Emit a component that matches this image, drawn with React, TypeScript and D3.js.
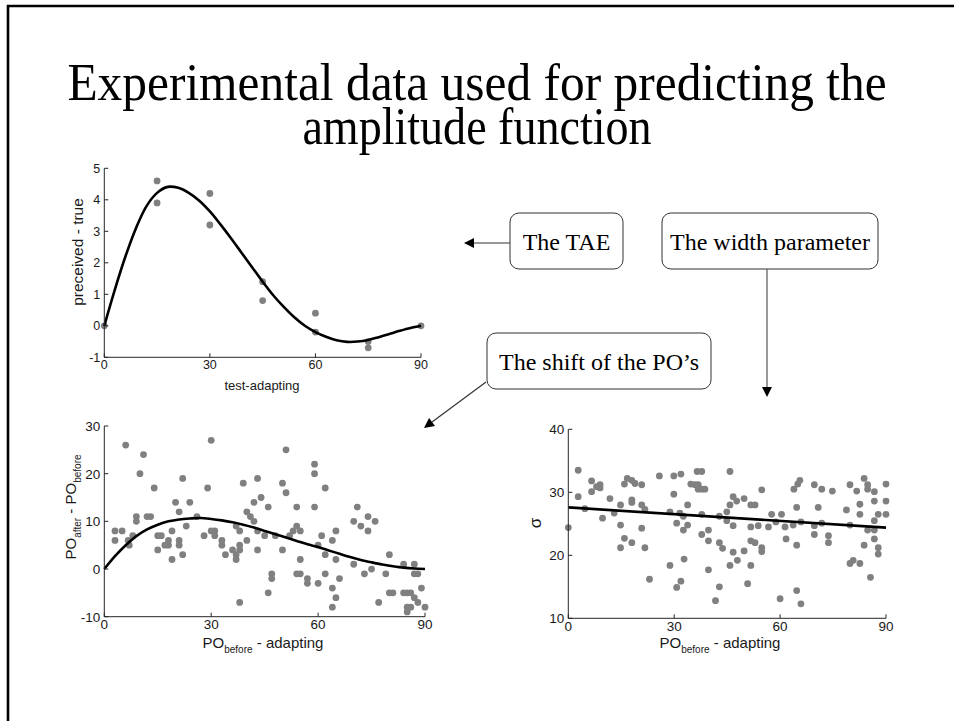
import React from "react";
import * as d3 from "d3";

// ---------- DATA ----------
const titleLines = ["Experimental data used for predicting the", "amplitude function"];

const taeXTicks = [0, 30, 60, 90];
const taeYTicks = [-1, 0, 1, 2, 3, 4, 5];
const taePoints: [number, number][] = [
  [0, 0], [15, 4.6], [15, 3.9], [30, 4.2], [30, 3.2], [45, 1.4], [45, 0.8],
  [60, 0.4], [60, -0.2], [75, -0.5], [75, -0.7], [90, 0],
];
const taeCurve: [number, number][] = [
  [0, 0], [3, 1.15], [6, 2.2], [9, 3.1], [12, 3.8], [15, 4.22], [18, 4.41], [21, 4.38],
  [24, 4.22], [27, 3.97], [30, 3.63], [33, 3.22], [36, 2.78], [39, 2.32], [42, 1.86],
  [45, 1.4], [48, 0.97], [51, 0.6], [54, 0.27], [57, 0.0], [60, -0.2], [63, -0.35],
  [66, -0.46], [69, -0.51], [72, -0.5], [75, -0.45], [78, -0.36], [81, -0.26],
  [84, -0.16], [87, -0.07], [90, 0],
];

const shiftXTicks = [0, 30, 60, 90];
const shiftYTicks = [-10, 0, 10, 20, 30];
const shiftPoints: [number, number][] = [
  [3, 8], [3, 6], [5, 8], [6, 26], [6.7, 6], [7, 5], [8, 7], [9, 11], [9, 10], [10, 20],
  [11, 24], [12, 11], [13, 11], [14, 17], [15, 7], [15, 4], [16, 7], [17, 5], [18, 6],
  [18, 5], [19, 2], [19, 8], [20, 14], [21, 12], [21, 6], [21, 5], [22, 19], [22, 3],
  [23, 9], [24, 14], [26, 11], [28, 7], [29, 17], [30, 27], [30, 8], [31, 8], [31, 7],
  [33, 6], [33, 5], [34, 3], [36, 4], [37, 3], [37, 2], [37, 9], [38, 8], [38, 5],
  [38, 4], [38, -7], [39, 18], [40, 12], [40, 6], [41, 11], [42, 14], [42, 10], [43, 19],
  [43, 8], [43, 4], [44, 15], [45, 7], [46, 13], [46, -5], [47, -1], [47, -2], [48, 7],
  [50, 18], [50, 4], [51, 25], [51, 16], [52, 7], [53, 8], [54, 13], [54, 9], [54, -1],
  [55, 8], [55, 2], [55, -1], [57, -2], [57, -3], [59, 22], [59, 20], [59, 13], [60, 5],
  [60, -3], [61, 7], [62, 17], [62, 3], [62, -1], [64, 6], [64, -4], [64, -8], [65, 8],
  [65, 2], [65, -6], [66, -2], [70, 10], [70, 1], [71, 13], [72, 9], [73, -1], [74, 11],
  [74, 8], [75, 0], [76, 10], [77, -7], [79, -1], [80, 3], [80, -5], [81, -5], [84, 1],
  [84, -5], [85, -5], [85, -8], [85, -9], [86, -5], [86, -8], [87, 1], [87, -1], [87, -6],
  [88, -1], [88, -7], [89, -4], [90, -8],
];
const shiftCurve: [number, number][] = [
  [0, 0], [3, 2.7], [6, 5.0], [9, 6.9], [12, 8.3], [15, 9.3], [18, 10.0], [21, 10.4],
  [24, 10.6], [27, 10.7], [30, 10.5], [33, 10.2], [36, 9.8], [39, 9.3], [42, 8.7],
  [45, 8.0], [48, 7.3], [51, 6.6], [54, 5.9], [57, 5.2], [60, 4.6], [63, 3.9], [66, 3.2],
  [69, 2.5], [72, 1.9], [75, 1.4], [78, 0.95], [81, 0.6], [84, 0.3], [87, 0.1], [90, 0],
];

const widthXTicks = [0, 30, 60, 90];
const widthYTicks = [10, 20, 30, 40];
const widthPoints: [number, number][] = [
  [0, 24.4], [2.8, 33.5], [2.8, 29.3], [4.7, 27.4], [6.6, 31.8], [6.6, 30.1], [8, 30.9],
  [9, 31.2], [9, 30.7], [9.7, 25.9], [11.8, 29], [13, 26.7], [14.8, 28], [14.8, 24.8],
  [14.8, 21.2], [15.9, 31.3], [15.9, 22.7], [16.7, 32.2], [18, 31.9], [18, 28.8],
  [18, 28.4], [18, 22], [18.9, 31.4], [20.8, 31.2], [20.8, 28], [20.8, 24.3], [21.7, 27.3],
  [21.7, 21.2], [23, 16.2], [25.8, 32.6], [28.8, 26.9], [28.8, 18.4], [29.9, 32.6],
  [29.9, 29.7], [30.7, 25.1], [30.7, 14.9], [31.6, 26.7], [31.9, 32.9], [31.9, 15.9],
  [32.6, 26.2], [32.6, 24], [32.8, 19.4], [33.8, 28], [33.8, 24.8], [34.7, 31.3],
  [35.9, 31.2], [36.5, 33.3], [36.8, 31.2], [36.8, 30.5], [37.8, 33.3], [37.8, 30.5],
  [37.8, 26.5], [37.8, 23.3], [38.7, 30.5], [39.7, 24], [39.7, 22.3], [39.7, 17.7],
  [41.7, 12.8], [42.8, 22], [42.8, 26.2], [42.8, 15], [43.7, 21.1], [44.9, 26.9],
  [44.9, 25.5], [45.8, 33.3], [45.8, 28], [45.8, 18.4], [46.7, 29.3], [46.7, 24.7],
  [46.7, 20.5], [47.7, 28.6], [47.9, 19.2], [49.8, 29], [49.8, 20.7], [50.8, 15.5],
  [51.7, 28], [51.7, 24.5], [51.7, 22.3], [51.7, 18.4], [52.9, 28], [52.9, 22],
  [53.8, 24.7], [54.8, 30.4], [54.8, 21.2], [54.8, 20.6], [56.7, 24.5], [57.6, 26.5],
  [58.8, 25.3], [60, 13.1], [60.4, 26.5], [61.4, 24.5], [61.7, 22.6], [63.7, 24.8],
  [63.9, 30.5], [64.7, 27.6], [64.7, 21.6], [64.7, 14.4], [65, 31.3], [65.6, 31.9],
  [65.9, 25.3], [65.9, 12.3], [69.7, 31.2], [69.7, 24.7], [69.7, 23.3], [70.8, 27.6],
  [71.8, 30.5], [71.8, 25.1], [73.7, 23.1], [73.7, 22], [74.8, 30.2], [78.8, 27.2],
  [79.8, 31.2], [79.8, 24.8], [79.8, 18.7], [80.7, 19.2], [81.7, 30.2], [82.6, 28.1],
  [82.6, 26.5], [82.6, 18.7], [83.8, 32.2], [83.8, 21.6], [84.8, 31.2], [84.8, 30.5],
  [84.8, 24], [85.6, 16.5], [86.7, 30.1], [86.7, 28.6], [86.7, 25.5], [86.7, 24],
  [86.7, 22.6], [87.8, 26.5], [87.8, 21.2], [87.8, 20.2], [90, 31.3], [90, 28.6],
  [90, 26.5],
];
const widthLine: [number, number][] = [[0, 27.6], [90, 24.4]];

const calloutLabels = ["The TAE", "The width parameter", "The shift of the PO\u2019s"];

// ---------- COMPONENTS ----------
const SANS = "Liberation Sans, Arial, Helvetica, sans-serif";
const SERIF = "Liberation Serif, Times New Roman, serif";
const AXIS = "#262626";
const DOT = "#808080";

type PanelProps = {
  x0: number; x1: number; y0: number; y1: number;
  xDomain: [number, number]; yDomain: [number, number];
  xTicks: number[]; yTicks: number[];
  points: [number, number][]; curve: [number, number][];
  tickSize: number; curveType: any;
};

function Panel(p: PanelProps) {
  const x = d3.scaleLinear().domain(p.xDomain).range([p.x0, p.x1]);
  const y = d3.scaleLinear().domain(p.yDomain).range([p.y0, p.y1]);
  const line = d3.line<[number, number]>().x(d => x(d[0])).y(d => y(d[1])).curve(p.curveType);
  return (
    <g>
      {p.points.map((d, i) => (
        <circle key={i} cx={x(d[0])} cy={y(d[1])} r={3.4} fill={DOT} />
      ))}
      <path d={line(p.curve) || ""} fill="none" stroke="#000" strokeWidth={2.6} strokeLinejoin="round" />
      <line x1={p.x0} x2={p.x0} y1={p.y0} y2={p.y1} stroke={AXIS} strokeWidth={1} />
      <line x1={p.x0} x2={p.x1} y1={p.y0} y2={p.y0} stroke={AXIS} strokeWidth={1} />
      {p.yTicks.map(t => (
        <g key={"y" + t}>
          <line x1={p.x0} x2={p.x0 + 4} y1={y(t)} y2={y(t)} stroke={AXIS} />
          <text x={p.x0 - 4} y={y(t)} dy="0.36em" textAnchor="end" fontFamily={SANS} fontSize={p.tickSize} fill="#1a1a1a">{t}</text>
        </g>
      ))}
      {p.xTicks.map(t => (
        <g key={"x" + t}>
          <line x1={x(t)} x2={x(t)} y1={p.y0} y2={p.y0 - 4} stroke={AXIS} />
          <text x={x(t)} y={p.y0 + 1} dy="0.85em" textAnchor="middle" fontFamily={SANS} fontSize={p.tickSize} fill="#1a1a1a">{t}</text>
        </g>
      ))}
    </g>
  );
}

function Arrow({ x1, y1, x2, y2, color }: { x1: number; y1: number; x2: number; y2: number; color: string }) {
  const ang = Math.atan2(y2 - y1, x2 - x1);
  const L = 10, W = 5;
  const bx = x2 - L * Math.cos(ang), by = y2 - L * Math.sin(ang);
  const px = -Math.sin(ang) * W, py = Math.cos(ang) * W;
  return (
    <g>
      <line x1={x1} y1={y1} x2={bx} y2={by} stroke={color} strokeWidth={1.2} />
      <path d={`M${x2},${y2} L${bx + px},${by + py} L${bx - px},${by - py} Z`} fill="#000" />
    </g>
  );
}

const titleScaleX = [1.03, 0.96];

export default function App() {
  return (
    <svg width={954} height={721} style={{ position: "absolute", left: 0, top: 0, background: "#fff" }}>
      <rect x={0} y={0} width={954} height={721} fill="#fff" />
      {/* slide border */}
      <line x1={7} x2={954} y1={6} y2={6} stroke="#000" strokeWidth={2.6} />
      <line x1={8} x2={8} y1={5} y2={721} stroke="#000" strokeWidth={2.6} />

      {/* title */}
      {titleLines.map((t, i) => (
        <text key={i} transform={`translate(477,${100 + i * 44}) scale(${titleScaleX[i]},1.12)`}
          textAnchor="middle" fontFamily={SERIF} fontSize={48} fill="#000">{t}</text>
      ))}

      {/* TAE panel */}
      <Panel x0={104.3} x1={421} y0={357.3} y1={168.3} xDomain={[0, 90]} yDomain={[-1, 5]}
        xTicks={taeXTicks} yTicks={taeYTicks} points={taePoints} curve={taeCurve}
        tickSize={12.5} curveType={d3.curveCatmullRom} />
      <text x={262} y={390} textAnchor="middle" fontFamily={SANS} fontSize={13} fill="#1a1a1a">test-adapting</text>
      <text transform="translate(83,252) rotate(-90)" textAnchor="middle" fontFamily={SANS} fontSize={15.5} fill="#1a1a1a">preceived - true</text>

      {/* shift panel */}
      <Panel x0={104.3} x1={425} y0={616.7} y1={426} xDomain={[0, 90]} yDomain={[-10, 30]}
        xTicks={shiftXTicks} yTicks={shiftYTicks} points={shiftPoints} curve={shiftCurve}
        tickSize={13.5} curveType={d3.curveCatmullRom} />
      <text x={263} y={648} textAnchor="middle" fontFamily={SANS} fontSize={15} fill="#1a1a1a">
        PO<tspan fontSize={10} dy={5}>before</tspan><tspan dy={-5}> - adapting</tspan>
      </text>
      <text transform="translate(76,507) rotate(-90)" textAnchor="middle" fontFamily={SANS} fontSize={15} fill="#1a1a1a">
        PO<tspan fontSize={10} dy={5}>after</tspan><tspan dy={-5}> - PO</tspan><tspan fontSize={10} dy={5}>before</tspan>
      </text>

      {/* width panel */}
      <Panel x0={568.3} x1={886} y0={618.3} y1={429.3} xDomain={[0, 90]} yDomain={[10, 40]}
        xTicks={widthXTicks} yTicks={widthYTicks} points={widthPoints} curve={widthLine}
        tickSize={13.5} curveType={d3.curveLinear} />
      <text x={720} y={648} textAnchor="middle" fontFamily={SANS} fontSize={15} fill="#1a1a1a">
        PO<tspan fontSize={10} dy={5}>before</tspan><tspan dy={-5}> - adapting</tspan>
      </text>
      <text transform="translate(541,523) rotate(-90)" textAnchor="middle" fontFamily={SANS} fontSize={17} fill="#1a1a1a">σ</text>

      {/* callouts */}
      <rect x={510} y={213} width={113} height={56} rx={9} fill="#fff" stroke="#333" strokeWidth={1} />
      <text x={566.5} y={250} textAnchor="middle" fontFamily={SERIF} fontSize={24} fill="#000">{calloutLabels[0]}</text>
      <Arrow x1={510} y1={243} x2={464} y2={243} color="#333" />

      <rect x={662} y={213} width={216} height={56} rx={9} fill="#fff" stroke="#333" strokeWidth={1} />
      <text x={770} y={250} textAnchor="middle" fontFamily={SERIF} fontSize={24} fill="#000">{calloutLabels[1]}</text>
      <Arrow x1={767} y1={269} x2={767} y2={397} color="#555" />

      <rect x={487} y={333} width={224} height={56} rx={9} fill="#fff" stroke="#333" strokeWidth={1} />
      <text x={599} y={370} textAnchor="middle" fontFamily={SERIF} fontSize={24} fill="#000">{calloutLabels[2]}</text>
      <Arrow x1={486} y1={382} x2={424} y2={428} color="#333" />
    </svg>
  );
}
